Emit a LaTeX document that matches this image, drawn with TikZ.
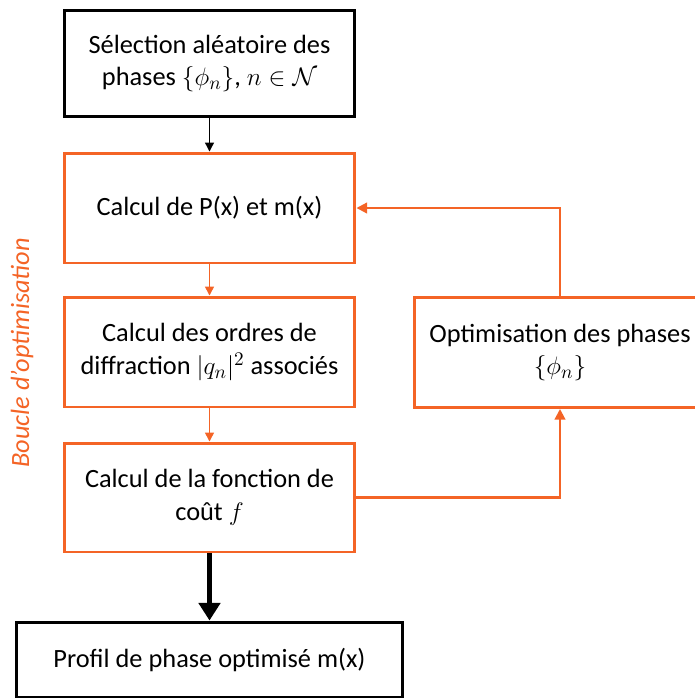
\documentclass[tikz,border=0pt]{standalone}
\usepackage{fontspec}
\setmainfont{Carlito}
\usepackage{amsmath}
\usetikzlibrary{arrows.meta, positioning, calc}
\definecolor{myorange}{RGB}{244,100,38}
\tikzset{
  blackbox/.style={rectangle, draw=black, fill=white, align=center, minimum width=5.82cm, minimum height=2.12cm, line width=1.7pt, font=\fontsize{15}{18.5}\selectfont, inner sep=0pt},
  orangebox/.style={rectangle, draw=myorange, fill=white, align=center, minimum width=5.82cm, minimum height=2.2cm, line width=1.7pt, font=\fontsize{15}{18.5}\selectfont, inner sep=0pt},
  arrow/.style={-{Triangle[length=5pt, width=5pt]}, line width=0.7pt, color=black},
  orangearrow/.style={-{Triangle[length=5pt, width=5pt]}, line width=0.8pt, color=myorange},
  looparrow/.style={-{Triangle[length=6pt, width=6pt]}, line width=1.2pt, color=myorange},
  bigarrow/.style={-{Triangle[length=10pt, width=12pt]}, line width=3.4pt, color=black}
}
\begin{document}
\begin{tikzpicture}[x=0.02cm, y=-0.02cm]
  \useasboundingbox (0,0) rectangle (694,700);

  % Main column
  \node[blackbox] (selection) at (209.5,63.5) {Sélection aléatoire des\\phases $\{\phi_n\}$, $n\in\mathcal{N}$};
  \node[orangebox] (calcPm) at (209.5,208) {Calcul de P(x) et m(x)};
  \node[orangebox] (ordres) at (209.5,352) {Calcul des ordres de\\diffraction $|q_n|^2$ associés};
  \node[orangebox, minimum height=2.18cm] (cout) at (209.5,497.5) {Calcul de la fonction de\\coût $f$};
  \node[blackbox, minimum width=7.74cm, minimum height=1.5cm] (profil) at (209.5,659.5) {Profil de phase optimisé m(x)};

  % Right branch
  \node[orangebox] (optim) at (560,352.5) {Optimisation des phases\\$\{\phi_n\}$};

  % Loop label
  \node[rotate=90, text=myorange, font=\fontsize{15}{18}\selectfont\itshape] (boucle) at (22,353) {Boucle d’optimisation};

  % Connectors
  \draw[arrow] (selection) -- (calcPm);
  \draw[orangearrow] (calcPm) -- (ordres);
  \draw[orangearrow] (ordres) -- (cout);
  \draw[looparrow] (cout.east) -| (optim.south);
  \draw[looparrow] (optim.north) |- (calcPm.east);
  \draw[bigarrow] (cout) -- (profil);
\end{tikzpicture}
\end{document}
